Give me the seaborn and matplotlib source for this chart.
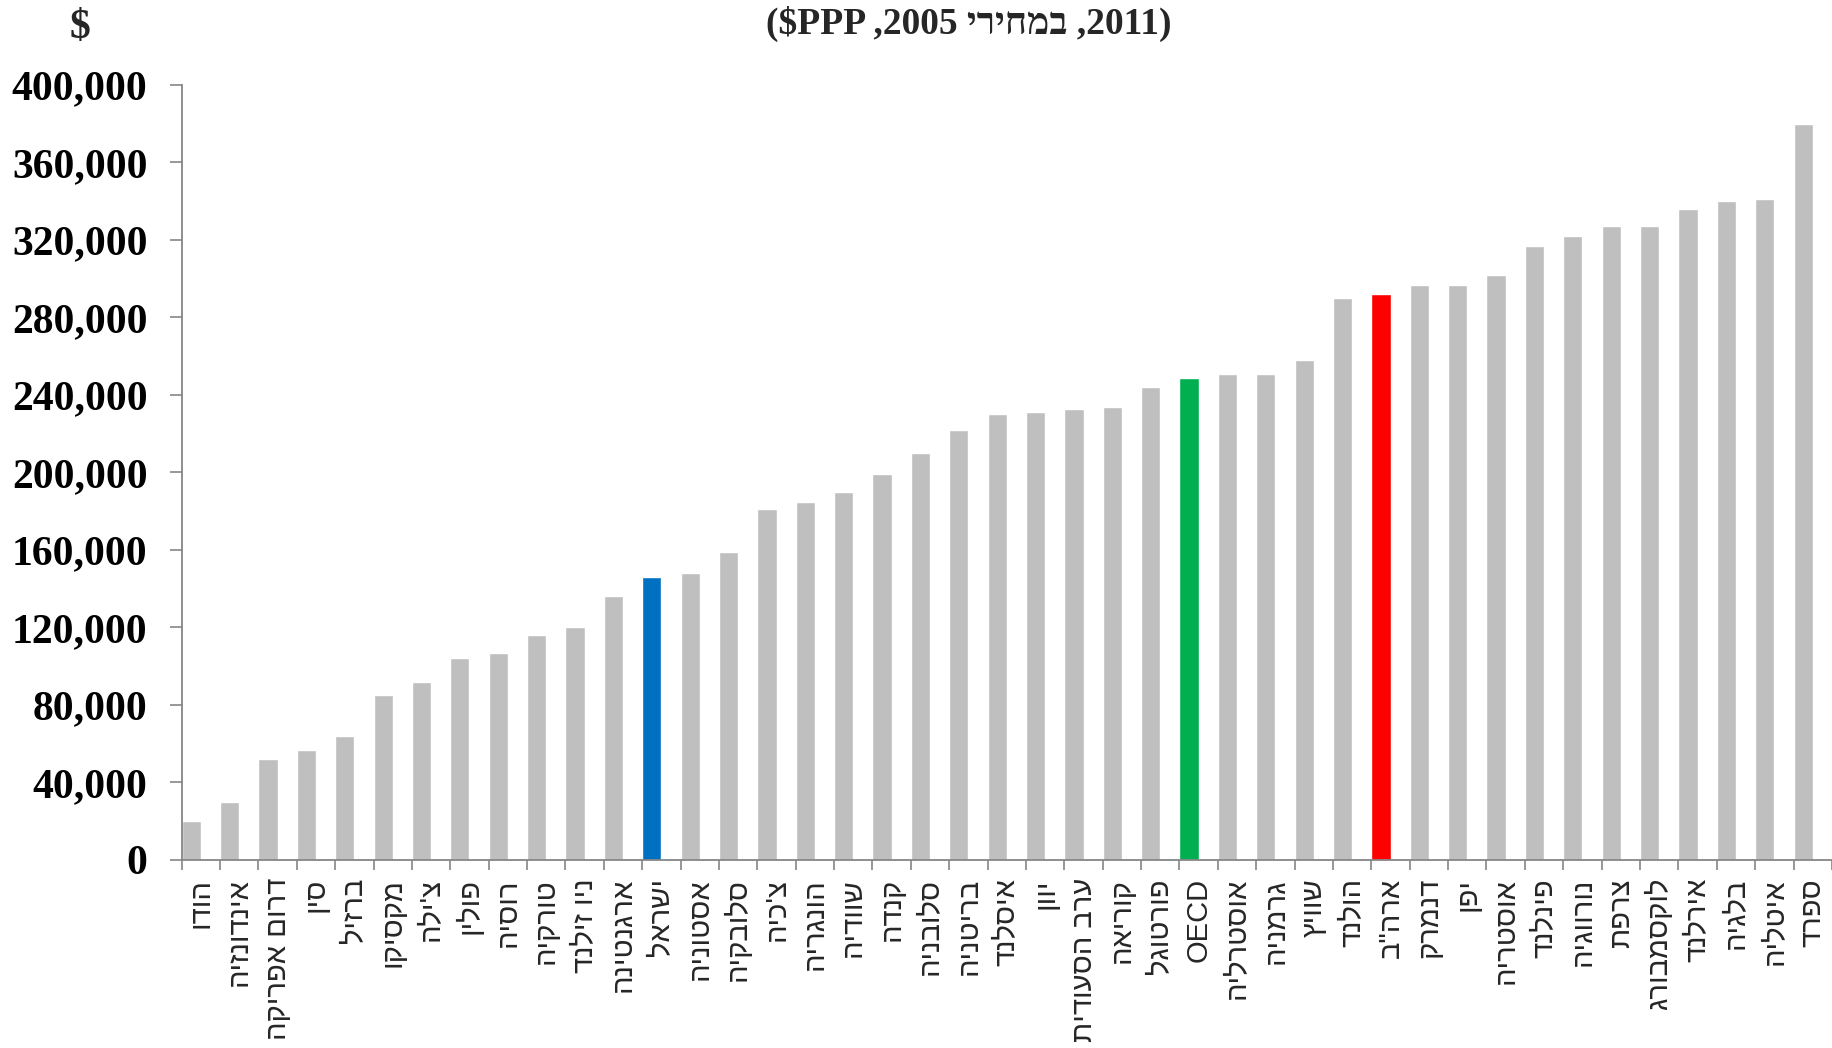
import matplotlib
matplotlib.use('Agg')
import matplotlib.pyplot as plt
import seaborn as sns
import pandas as pd
from matplotlib.ticker import FuncFormatter

# data, sorted as in the source chart (left to right)
countries = ['הודו', 'אינדונזיה', 'דרום אפריקה', 'סין', 'ברזיל', 'מקסיקו', "צ'ילה",
             'פולין', 'רוסיה', 'טורקיה', 'ניו זילנד', 'ארגנטינה', 'ישראל', 'אסטוניה',
             'סלובקיה', "צ'כיה", 'הונגריה', 'שוודיה', 'קנדה', 'סלובניה', 'בריטניה',
             'איסלנד', 'יוון', 'ערב הסעודית', 'קוריאה', 'פורטוגל', 'OECD', 'אוסטרליה',
             'גרמניה', 'שוויץ', 'הולנד', 'ארה"ב', 'דנמרק', 'יפן', 'אוסטריה', 'פינלנד',
             'נורווגיה', 'צרפת', 'לוקסמבורג', 'אירלנד', 'בלגיה', 'איטליה', 'ספרד']
values = [20000, 30000, 52000, 57000, 64000, 85000, 92000,
          104000, 107000, 116000, 120000, 136000, 146000, 148000,
          159000, 181000, 185000, 190000, 199000, 210000, 222000,
          230000, 231000, 233000, 234000, 244000, 249000, 251000,
          251000, 258000, 290000, 292000, 297000, 297000, 302000, 317000,
          322000, 327000, 327000, 336000, 340000, 341000, 380000]
y_ticks = list(range(0, 400001, 40000))

highlight = {'ישראל': '#0070C0', 'OECD': '#00B050', 'ארה"ב': '#FF0000'}
bar_gray = '#BFBFBF'
axis_gray = '#868686'


def visual(s):
    # matplotlib lays text out left to right, so Hebrew has to be reversed
    if any('\u0590' <= ch <= '\u05ff' for ch in s):
        return s[::-1]
    return s


sns.set_theme(style='white')
plt.rcParams['font.family'] = ['Liberation Sans', 'DejaVu Sans']
serif = ['Liberation Serif', 'DejaVu Sans']

df = pd.DataFrame({'country': countries, 'value': values})
colors = [highlight.get(c, bar_gray) for c in countries]

fig = plt.figure(figsize=(18.33, 10.48), dpi=100)
ax = fig.add_axes([0.0991, 0.1794, 0.9003, 0.7395])

sns.barplot(data=df, x='country', y='value', hue='country', palette=colors,
            width=0.5, saturation=1, errorbar=None, legend=False, ax=ax)
# bars sit in the left half of each category, as in the Excel original
for p in ax.patches:
    p.set_x(p.get_x() - p.get_width() / 2)

ax.set_xlim(-0.5, len(countries) - 0.5)
ax.set_ylim(0, 400000)
ax.set_xlabel('')
ax.set_ylabel('')

ax.set_xticks(range(len(countries)))
ax.set_xticklabels([visual(c) for c in countries], rotation=90, ha='center', va='top', fontsize=21)
ax.set_xticks([i - 0.5 for i in range(len(countries) + 1)], minor=True)
ax.tick_params(axis='x', which='major', length=0, pad=13)
ax.tick_params(axis='x', which='minor', bottom=True, length=7, width=1.2, color=axis_gray, direction='out')

ax.set_yticks(y_ticks)
ax.yaxis.set_major_formatter(FuncFormatter(lambda v, _: f'{v:,.0f}'))
ax.tick_params(axis='y', left=True, length=8.5, width=1.2, color=axis_gray, direction='out', pad=16)
for lab in ax.get_yticklabels():
    lab.set_fontfamily(serif)
    lab.set_fontweight('bold')
    lab.set_fontsize(30)
    lab.set_color('black')

sns.despine(ax=ax)
for side in ['left', 'bottom']:
    ax.spines[side].set_color(axis_gray)
    ax.spines[side].set_linewidth(1.3)

title = '($PPP ,2005 ' + visual('במחירי') + ' ,2011)'
fig.text(969 / 1833, 1 - 24 / 1048, title, ha='center', va='center',
         family=serif, fontweight='bold', fontsize=27)
fig.text(80 / 1833, 1 - 28 / 1048, '$', ha='center', va='center',
         family=serif, fontweight='bold', fontsize=30)

fig.savefig('out.png', dpi=100)
